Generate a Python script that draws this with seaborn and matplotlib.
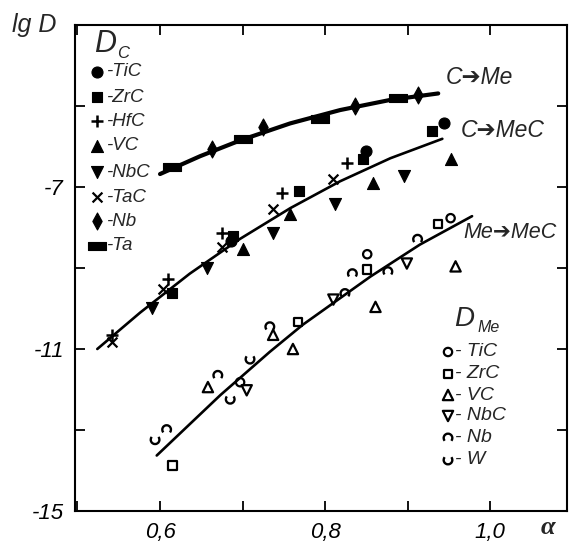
import numpy as np
import pandas as pd
import matplotlib
matplotlib.use("Agg")
import matplotlib.pyplot as plt
from matplotlib.path import Path
import seaborn as sns

W, H = 569, 543

# ---------------- data : carbon diffusion D_C (filled symbols) ----------------
# C -> Me (metals)
nb_c_x = [0.663, 0.725, 0.836, 0.912]
nb_c_y = [-6.06, -5.53, -4.99, -4.74]
ta_c_x = [0.615, 0.701, 0.794, 0.888]
ta_c_y = [-6.50, -5.81, -5.31, -4.81]
# C -> MeC (carbides)
tic_c_x = [0.686, 0.850, 0.944]
tic_c_y = [-8.34, -6.11, -5.43]
zrc_c_x = [0.615, 0.688, 0.768, 0.846, 0.930]
zrc_c_y = [-9.61, -8.22, -7.10, -6.30, -5.61]
hfc_c_x = [0.542, 0.610, 0.675, 0.748, 0.827]
hfc_c_y = [-10.65, -9.26, -8.14, -7.15, -6.40]
vc_c_x = [0.701, 0.758, 0.858, 0.953]
vc_c_y = [-8.54, -7.67, -6.90, -6.30]
nbc_c_x = [0.590, 0.657, 0.737, 0.812, 0.895]
nbc_c_y = [-9.98, -9.01, -8.14, -7.42, -6.73]
tac_c_x = [0.542, 0.604, 0.675, 0.737, 0.810]
tac_c_y = [-10.83, -9.51, -8.47, -7.55, -6.80]

# ---------------- data : metal diffusion D_Me (open symbols) ----------------
tic_m_x = [0.697, 0.851, 0.952]
tic_m_y = [-11.82, -8.66, -7.77]
zrc_m_x = [0.615, 0.767, 0.851, 0.937]
zrc_m_y = [-13.88, -10.33, -9.04, -7.92]
vc_m_x = [0.658, 0.737, 0.761, 0.861, 0.958]
vc_m_y = [-11.94, -10.65, -11.00, -9.96, -8.96]
nbc_m_x = [0.705, 0.810, 0.899]
nbc_m_y = [-12.02, -9.78, -8.89]
nb_m_x = [0.608, 0.670, 0.733, 0.824, 0.833, 0.876, 0.912]
nb_m_y = [-12.99, -11.65, -10.45, -9.63, -9.14, -9.09, -8.29]
w_m_x = [0.594, 0.685, 0.709]
w_m_y = [-13.24, -12.24, -11.25]

# ---------------- fitted curves ----------------
c_me_x = [0.600, 0.6485, 0.697, 0.7576, 0.8182, 0.8788, 0.937]
c_me_y = [-6.68, -6.24, -5.85, -5.43, -5.10, -4.85, -4.69]
c_mec_x = [0.524, 0.576, 0.636, 0.697, 0.758, 0.818, 0.879, 0.942]
c_mec_y = [-11.00, -10.10, -9.14, -8.28, -7.52, -6.86, -6.29, -5.81]
me_mec_x = [0.596, 0.673, 0.733, 0.773, 0.855, 0.915, 0.978]
me_mec_y = [-13.63, -12.14, -11.07, -10.40, -9.21, -8.42, -7.72]

curve_labels = ["C\u2794Me", "C\u2794MeC", "Me\u2794MeC"]
dc_labels = ["-TiC", "-ZrC", "-HfC", "-VC", "-NbC", "-TaC", "-Nb", "-Ta"]
dme_labels = ["- TiC", "- ZrC", "- VC", "- NbC", "- Nb", "- W"]
xtick_vals = [0.5, 0.6, 0.7, 0.8, 0.9, 1.0]
xtick_text = ["", "0,6", "", "0,8", "", "1,0"]
ytick_vals = [-15, -13, -11, -9, -7, -5]
ytick_text = ["-15", "", "-11", "", "-7", ""]

# ---------------- style ----------------
sns.set_theme(style="ticks")
plt.rcParams["font.family"] = ["Liberation Sans", "DejaVu Sans"]
plt.rcParams["font.style"] = "italic"

diamond = Path([(0, 1), (0.55, 0), (0, -1), (-0.55, 0), (0, 1)],
               [Path.MOVETO, Path.LINETO, Path.LINETO, Path.LINETO, Path.CLOSEPOLY])
bar = Path([(-1, -0.45), (1, -0.45), (1, 0.45), (-1, 0.45), (-1, -0.45)],
           [Path.MOVETO, Path.LINETO, Path.LINETO, Path.LINETO, Path.CLOSEPOLY])
arc_nb = Path.arc(-40, 220)
arc_w = Path.arc(140, 400)

fig = plt.figure(figsize=(W / 100, H / 100), dpi=100, facecolor="white")
ax = fig.add_axes([75 / W, 1 - 511 / H, 492 / W, 486 / H])
ax.set_facecolor("white")


def pts(xs, ys, marker, s, kind="filled", lw=1.0, **kw):
    if kind == "filled":
        sns.scatterplot(x=xs, y=ys, marker=marker, s=s, color="black",
                        edgecolor="black", linewidth=lw, ax=ax, zorder=4, legend=False, **kw)
    elif kind == "open":
        sns.scatterplot(x=xs, y=ys, marker=marker, s=s, color="black", facecolor="none",
                        edgecolor="black", linewidth=lw, ax=ax, zorder=4, legend=False, **kw)
    else:  # line-art marker
        sns.scatterplot(x=xs, y=ys, marker=marker, s=s, color="black",
                        linewidth=lw, ax=ax, zorder=4, legend=False, **kw)


# curves
sns.lineplot(x=c_me_x, y=c_me_y, color="black", lw=3.0, ax=ax, zorder=3)
sns.lineplot(x=c_mec_x, y=c_mec_y, color="black", lw=1.9, ax=ax, zorder=3)
sns.lineplot(x=me_mec_x, y=me_mec_y, color="black", lw=1.9, ax=ax, zorder=3)

# D_C series
dc_styles = [
    (tic_c_x, tic_c_y, "o", 63, "filled", 0.8),
    (zrc_c_x, zrc_c_y, "s", 52, "filled", 0.8),
    (hfc_c_x, hfc_c_y, "+", 63, "line", 1.8),
    (vc_c_x, vc_c_y, "^", 75, "filled", 0.8),
    (nbc_c_x, nbc_c_y, "v", 75, "filled", 0.8),
    (tac_c_x, tac_c_y, "x", 50, "line", 1.6),
    (nb_c_x, nb_c_y, diamond, 150, "filled", 0.8),
    (ta_c_x, ta_c_y, bar, 150, "filled", 0.8),
]
for xs, ys, m, s, k, lw in dc_styles:
    pts(xs, ys, m, s, k, lw)

# D_Me series
dme_styles = [
    (tic_m_x, tic_m_y, "o", 36, "open", 1.6),
    (zrc_m_x, zrc_m_y, "s", 36, "open", 1.6),
    (vc_m_x, vc_m_y, "^", 55, "open", 1.6),
    (nbc_m_x, nbc_m_y, "v", 55, "open", 1.6),
    (nb_m_x, nb_m_y, arc_nb, 40, "open", 1.7),
    (w_m_x, w_m_y, arc_w, 40, "open", 1.7),
]
for xs, ys, m, s, k, lw in dme_styles:
    pts(xs, ys, m, s, k, lw)

# axes
ax.set_xlim(0.497, 1.093)
ax.set_ylim(-15, -3)
ax.set_xticks(xtick_vals)
ax.set_xticklabels(xtick_text)
ax.set_yticks(ytick_vals)
ax.set_yticklabels(ytick_text)
ax.tick_params(direction="in", length=7, width=1.3, top=True, right=True,
               labelsize=16, pad=8, colors="black")
for sp in ax.spines.values():
    sp.set_visible(True)
    sp.set_linewidth(1.5)
    sp.set_color("black")
ax.set_xlabel("")
ax.set_ylabel("")


def F(px, py):
    return px / W, 1 - py / H


# axis titles
fig.text(*F(12, 25), "lg D", fontsize=18, va="center", ha="left")
fig.text(*F(548, 528), "\u03b1", fontsize=19, va="center", ha="center",
         family=["Liberation Serif", "DejaVu Serif"], fontweight="bold", style="italic")

# curve labels
fig.text(*F(446, 77), curve_labels[0], fontsize=16.5, va="center", ha="left")
fig.text(*F(461, 131), curve_labels[1], fontsize=16.5, va="center", ha="left")
fig.text(*F(463, 233), curve_labels[2], fontsize=15.5, va="center", ha="left")

# D_C key
fig.text(*F(94, 44), "D", fontsize=22, va="center", ha="left")
fig.text(*F(117, 54), "C", fontsize=12, va="center", ha="left")
dc_rows = [72, 97, 121, 146, 172, 197, 221, 246]
for (xs, ys, m, s, k, lw), lab, row in zip(dc_styles, dc_labels, dc_rows):
    fx, fy = F(97, row)
    if k == "line":
        ax.scatter([fx], [fy], marker=m, s=s, color="black", linewidth=lw,
                   transform=fig.transFigure, clip_on=False, zorder=5)
    else:
        ax.scatter([fx], [fy], marker=m, s=s, color="black", edgecolor="black", linewidth=lw,
                   transform=fig.transFigure, clip_on=False, zorder=5)
    fig.text(*F(106, row), lab, fontsize=13.5, va="center", ha="left")

# D_Me key
fig.text(*F(454, 319), "D", fontsize=20, va="center", ha="left")
fig.text(*F(478, 327), "Me", fontsize=11.5, va="center", ha="left")
dme_rows = [352, 374, 395, 416, 438, 460]
for (xs, ys, m, s, k, lw), lab, row in zip(dme_styles, dme_labels, dme_rows):
    fx, fy = F(448, row)
    ax.scatter([fx], [fy], marker=m, s=s, facecolor="none", edgecolor="black", linewidth=lw,
               transform=fig.transFigure, clip_on=False, zorder=5)
    fig.text(*F(455, row), lab, fontsize=14, va="center", ha="left")

fig.savefig("out.png", dpi=100, facecolor="white")
